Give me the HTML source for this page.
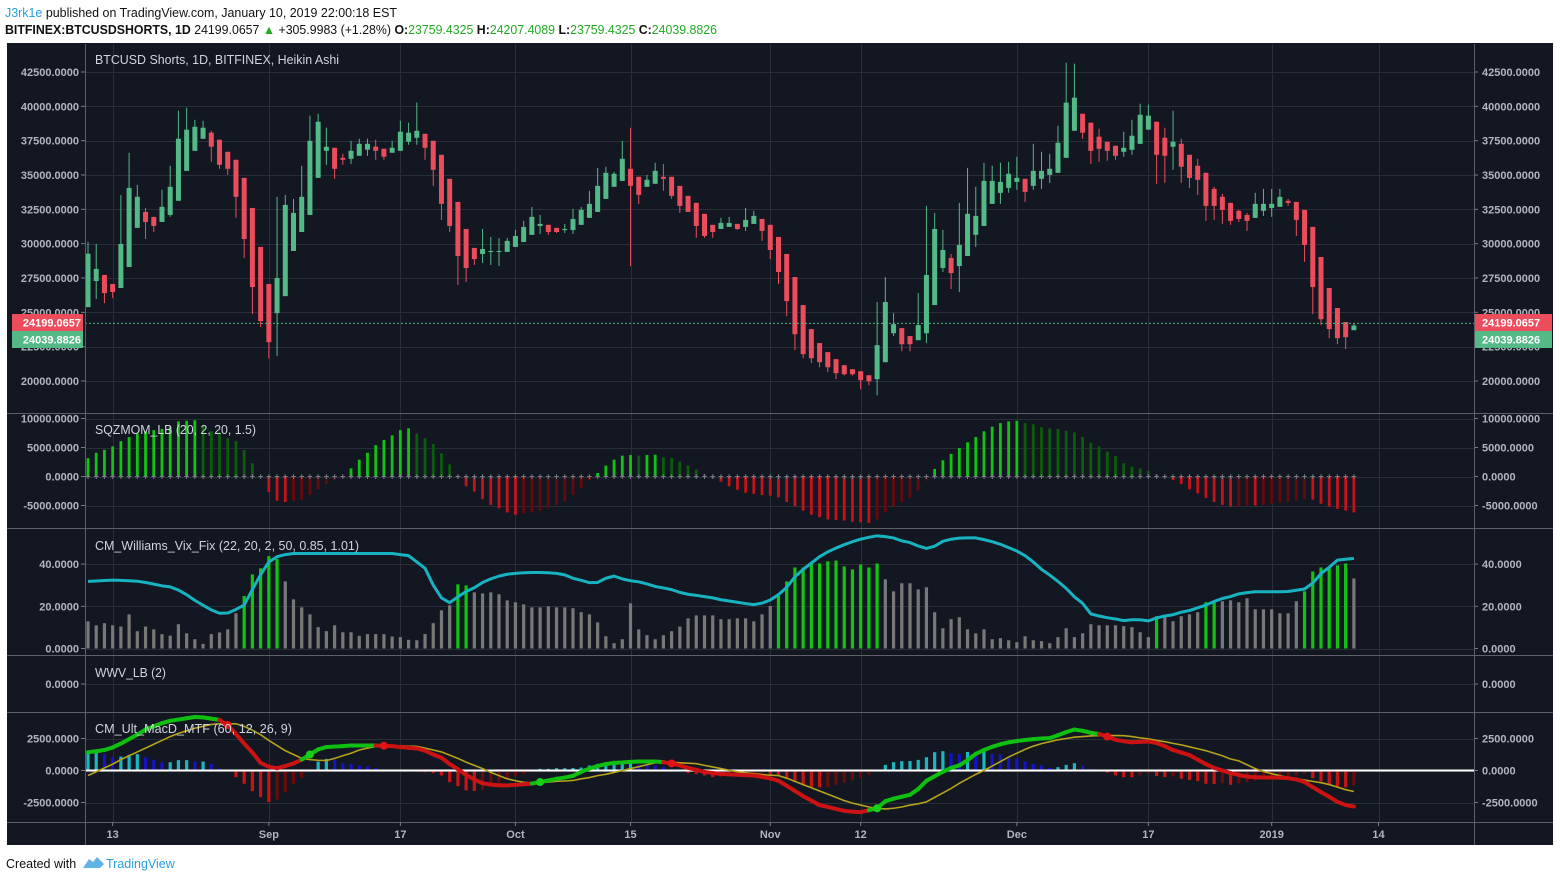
<!DOCTYPE html>
<html><head><meta charset="utf-8"><style>
html,body{margin:0;padding:0;background:#fff;}
svg{display:block;font-family:"Liberation Sans",sans-serif;}
</style></head><body>
<svg id="chart" width="1560" height="881" viewBox="0 0 1560 881" xmlns="http://www.w3.org/2000/svg">
<text x="5" y="17" font-size="12.5" fill="#111" textLength="392" lengthAdjust="spacingAndGlyphs"><tspan fill="#2a9ee0">J3rk1e</tspan> published on TradingView.com, January 10, 2019 22:00:18 EST</text>
<text x="5" y="34" font-size="12.5" fill="#111" textLength="712" lengthAdjust="spacingAndGlyphs"><tspan font-weight="bold">BITFINEX:BTCUSDSHORTS, 1D</tspan> 24199.0657 <tspan fill="#22ab22">▲</tspan> +305.9983 (+1.28%) <tspan font-weight="bold">O:</tspan><tspan fill="#22ab22">23759.4325</tspan> <tspan font-weight="bold">H:</tspan><tspan fill="#22ab22">24207.4089</tspan> <tspan font-weight="bold">L:</tspan><tspan fill="#22ab22">23759.4325</tspan> <tspan font-weight="bold">C:</tspan><tspan fill="#22ab22">24039.8826</tspan></text>
<rect x="7" y="43" width="1546" height="802" fill="#131722"/>
<g id="grid"></g>
<g id="marks"></g>
<g id="axes"></g>
<text x="6" y="868" font-size="12.5" fill="#111">Created with</text>
<g>
<path d="M83 868 L89 859 L93 862 L97 857 L104 864 L100 868 Z" fill="#5fb3e6"/>
<text x="106" y="868" font-size="12.5" fill="#2a9ee0">TradingView</text>
</g>
</svg>
<script>
// ---------- data ----------
const open=[25.38,27.28,27.72,27.06,26.77,28.3,31.15,32.31,31.95,31.58,
32.09,33.12,35.3,36.76,37.64,38.08,37.57,36.69,36.11,34.79,
32.6,29.76,27.06,24.94,26.18,29.47,30.85,32.09,34.79,36.76,
36.98,36.25,36.18,36.4,36.84,37.06,36.91,36.62,36.76,37.42,
37.71,38.0,37.49,36.47,34.72,33.04,31.07,29.69,29.25,29.4,
29.45,29.4,29.76,30.12,30.64,31.29,31.37,31.15,30.99,30.99,
31.37,31.88,32.31,33.26,34.14,34.57,35.45,34.87,34.14,34.36,
34.87,34.87,34.21,33.48,32.97,32.17,31.37,31.07,31.22,31.44,
31.22,31.44,31.8,31.37,30.49,29.25,27.57,25.53,23.78,22.76,
22.1,21.59,21.15,20.86,20.71,20.42,20.13,21.37,23.48,23.85,
23.27,22.97,23.48,25.53,28.23,28.96,28.37,29.1,30.64,31.29,
32.9,33.7,34.06,34.5,34.72,34.21,34.72,35.01,35.16,36.25,
38.22,39.46,38.81,37.79,37.42,37.13,36.69,36.84,37.27,38.3,
38.88,37.71,37.06,37.27,36.47,35.67,35.16,33.99,33.41,32.97,
32.39,32.09,31.88,32.39,32.6,32.68,33.12,33.04,32.46,31.22,
29.03,26.77,25.31,24.29,23.7];
const high=[30.13,29.98,27.72,27.06,33.55,36.62,34.28,32.6,31.95,33.92,
35.67,39.68,39.9,39.02,38.95,38.22,37.57,36.69,36.11,34.79,
32.6,29.76,27.06,33.41,33.55,33.26,35.67,39.32,39.46,38.44,
36.98,36.54,37.49,37.64,37.64,37.57,36.91,37.49,38.95,38.81,
40.27,38.0,37.49,36.47,34.72,33.04,31.07,29.69,31.07,30.49,
30.4,30.42,31.0,31.66,32.68,32.09,31.37,31.15,31.44,32.53,
32.68,33.85,35.52,35.6,35.23,37.49,38.44,34.87,35.01,35.89,
35.81,34.87,34.21,33.48,32.97,32.17,31.37,31.88,31.95,31.44,
32.6,32.39,31.8,31.37,30.49,29.25,27.57,25.53,23.78,22.76,
22.1,21.59,21.15,20.86,20.71,20.42,25.75,27.57,24.94,23.85,
23.27,26.4,32.75,32.24,31.0,29.25,32.97,35.52,34.14,35.89,
35.67,35.89,35.96,36.33,34.72,37.27,36.69,36.54,38.59,43.18,
43.11,39.46,38.81,38.37,37.42,37.13,38.15,39.02,40.19,40.12,
38.88,38.44,39.68,37.64,36.47,36.18,35.16,34.14,33.63,32.97,
32.46,32.24,33.7,33.99,33.99,33.99,33.26,33.04,32.46,31.22,
29.03,26.77,25.31,24.29,24.2];
const low=[25.38,25.97,25.67,26.04,26.77,28.3,31.15,30.34,30.85,31.58,
31.95,33.12,35.3,36.76,37.64,35.96,35.45,35.01,31.88,28.96,
24.87,23.92,21.66,21.81,26.18,29.47,30.85,32.09,34.79,35.74,
34.72,35.74,35.81,36.4,36.4,36.11,36.11,36.62,36.76,37.2,
37.2,36.11,34.21,31.73,30.85,26.99,27.21,28.45,28.59,28.45,
28.37,29.4,29.76,30.12,30.64,30.71,30.64,30.78,30.78,30.71,
31.37,31.88,32.31,33.26,34.14,34.57,28.37,32.9,34.14,34.36,
33.85,33.26,32.24,32.31,30.42,30.42,30.42,31.07,31.22,31.0,
30.93,31.44,30.2,28.88,27.06,24.72,22.25,21.66,21.3,21.0,
20.64,20.13,20.4,20.4,19.4,19.69,18.96,21.37,23.27,22.17,
22.17,22.97,22.76,25.53,27.94,26.7,26.48,29.1,29.76,31.29,
32.9,32.9,33.7,33.92,33.04,33.92,33.99,34.43,35.16,36.25,
38.22,37.64,35.81,35.96,36.04,36.11,36.33,36.47,37.27,38.3,
34.36,34.43,35.38,34.43,34.06,33.55,31.66,31.73,31.44,31.37,
31.58,30.93,31.88,32.02,31.95,32.68,32.75,30.56,28.67,24.87,
24.07,23.12,22.68,22.32,23.7];
const close=[29.27,28.16,26.4,26.48,29.98,34.06,33.41,31.58,31.29,32.68,
34.14,37.64,38.3,38.51,38.44,37.06,35.74,35.45,33.41,30.34,
26.84,24.36,22.83,27.5,32.82,32.24,33.41,37.49,38.88,37.06,
35.45,36.11,36.76,37.27,37.27,36.76,36.33,36.98,38.15,38.08,
38.22,36.98,35.38,32.9,31.29,29.1,28.23,28.88,29.61,29.47,
29.47,30.2,30.56,31.22,31.95,31.44,30.85,30.85,31.07,31.8,
32.46,32.9,34.21,35.16,35.09,36.18,34.21,33.55,34.65,35.3,
34.72,33.48,32.75,32.31,31.29,30.56,30.85,31.51,31.51,31.07,
31.73,32.02,30.93,29.54,27.94,25.82,23.41,21.95,21.66,21.37,
21.0,20.57,20.49,20.49,20.06,19.98,22.61,25.75,24.14,22.68,
22.68,24.07,27.72,31.07,29.54,27.86,29.91,32.17,32.02,34.57,
34.57,34.5,35.09,34.79,33.77,35.3,35.3,35.45,37.35,40.27,
40.63,38.08,36.76,36.91,36.76,36.4,36.98,37.86,39.39,39.32,
36.47,36.4,37.42,35.6,34.79,34.65,32.75,32.75,32.46,31.66,
31.8,31.66,32.9,32.9,32.9,33.41,32.97,31.73,29.91,26.84,
24.5,23.78,23.12,23.19,24.04];
const sqzMom=[3.16,4.1,4.6,5.2,6.1,6.8,7.4,7.8,8.0,8.2,
8.5,9.5,9.6,9.7,8.7,7.8,7.6,6.6,6.1,4.6,
2.3,0,-2.7,-4.2,-4.4,-4.2,-4.0,-3.2,-2.2,-1.3,
-0.6,-0.2,1.4,2.9,4.1,5.4,6.3,7.1,8.0,8.3,
7.4,6.6,5.6,4.0,2.1,0.1,-1.7,-2.6,-3.9,-4.9,
-5.5,-6.2,-6.6,-6.3,-6.2,-5.9,-5.5,-4.9,-4.3,-3.2,
-2.0,-0.6,0.6,1.9,2.9,3.6,3.7,3.6,3.7,3.75,
3.3,3.2,2.6,1.9,1.2,0.4,-0.3,-0.9,-1.7,-2.3,
-2.8,-3.0,-3.2,-3.3,-3.6,-4.4,-5.1,-5.9,-6.6,-7.0,
-7.4,-7.5,-7.6,-7.8,-7.9,-8.0,-7.4,-6.2,-5.2,-4.4,
-3.7,-2.5,-0.7,1.3,2.8,3.9,4.9,5.9,6.8,7.8,
8.6,9.2,9.5,9.6,9.2,9.0,8.5,8.3,8.2,7.9,
7.6,6.8,5.8,5.2,4.3,3.5,2.3,1.7,1.4,1.0,
0.4,0,-0.6,-1.3,-2.2,-2.9,-3.7,-4.4,-4.9,-5.2,
-5.1,-5.0,-5.0,-4.9,-4.7,-4.5,-4.3,-4.1,-3.9,-4.0,
-4.7,-5.2,-5.6,-5.9,-6.2];
const vixBars=[12.9,11,12,11,10.4,16.2,8.2,10.4,9.1,6.8,
6.1,11.5,7.2,4.4,2.2,6.8,7.6,9.1,16.7,24.9,
35.1,38,43.8,42.4,31.8,23.3,19.5,16.2,10.1,8.2,
11,7.7,7.7,6,6.8,6.8,6.8,5.7,5.4,4.1,
3.9,6.9,12,18.1,20.5,30.4,29.9,26.6,26.1,26.6,
25.7,22.8,21.9,20.9,19.5,19.5,20,19.5,19.5,19.1,
17.2,16.2,12.4,5.8,2.5,4.4,21.4,9.1,6.3,4.4,
6.3,8.2,10.4,14.3,15.7,15.7,15.7,13.9,13.9,14.3,
14.3,12.9,16.2,20.2,24.9,31.8,38.4,38.4,40.3,40.3,
41.3,41.7,38.9,37.5,39.8,38.4,40.3,32.8,27.1,30.9,
30.9,28,29,17.2,9.6,13.9,14.8,9.1,7.2,9.1,
4.4,4.9,3.9,3,5.8,3.9,3.5,2.5,5.4,9.6,
5.4,7.2,11.5,11,11,11,10.6,10.1,7.7,5.4,
15.3,14.8,12.9,15.3,16.2,17.2,21.9,21.9,22.4,22.8,
21.9,23.8,18.6,18.6,18.6,16.7,16.7,22.4,27.1,36.5,
38.4,38,39.4,40.3,33.2];
const vixAlert=[0,0,0,0,0,0,0,0,0,0, 0,0,0,0,0,0,0,0,0,1,
1,1,1,1,0,0,0,0,0,0, 0,0,0,0,0,0,0,0,0,0,
0,0,0,0,0,1,1,0,0,0, 0,0,0,0,0,0,0,0,0,0,
0,0,0,0,0,0,0,0,0,0, 0,0,0,0,0,0,0,0,0,0,
0,0,0,0,1,1,1,1,1,1, 1,1,1,1,1,1,1,0,0,0,
0,0,0,0,0,0,0,0,0,0, 0,0,0,0,0,0,0,0,0,0,
0,0,0,0,0,0,0,0,0,0, 1,0,0,0,0,0,1,1,0,0,
0,0,0,0,0,0,0,0,1,1, 1,1,1,1,0];
const vixLine=[31.8,32,32.2,32.4,32.3,32.1,31.9,31.3,30.5,29.7,
29.2,27.7,25.5,22.8,20.5,18.3,16.7,16.8,18.5,20.6,
28,35,41,43.5,44.5,45,45,45,45,45,
45,45,45,45,45,45,45,45,44.5,44,
41,38,30,24,21.7,24.5,27,28.8,31.3,33,
34.3,35.2,35.6,35.9,36,36,35.9,35.6,34.9,33.3,
32.3,31.2,31.3,33.3,34.3,33,32.1,31.6,30.6,29.4,
28.7,27.9,26.6,25.7,25.2,24.6,24,23.1,22.5,21.9,
21.3,20.8,21.5,23,25.5,29,34,37.5,40.5,43.5,
45.8,47.6,49.2,50.6,51.8,52.7,53.4,53,52.4,51,
50.2,48.6,47.4,48.5,50.8,51.8,52.3,52.4,52.4,51.6,
50.6,49.4,47.8,46.2,44,41,37.5,34.8,31.8,28.5,
24.5,21.4,16.4,15.4,14.6,14,13.2,13.6,13.6,13.1,
14.5,15.4,16,17.2,18,19.3,20.6,22.3,23.7,24.6,
25.9,26.5,26.9,26.9,26.9,26.9,27,27.6,28.2,31,
35.5,38.5,41.9,42.3,42.7];
const macdHist=[1.43,1.43,1.3,1.04,1.09,1.22,1.28,1.04,0.83,0.65,
0.65,0.81,0.81,0.7,0.7,0.52,0.13,0,-0.52,-1.04,
-1.61,-2.08,-2.47,-2.27,-1.69,-1.04,-0.57,0.08,0.7,0.91,
0.83,0.57,0.52,0.39,0.31,0.18,0,0,0,0,
0,-0.13,-0.2,-0.39,-0.91,-1.22,-1.56,-1.6,-1.48,-1.17,
-0.91,-0.65,-0.44,-0.26,-0.08,0.13,0.13,0.18,0.18,0.2,
0.23,0.39,0.52,0.6,0.65,0.7,0.72,0.44,0.42,0.40,
0.26,0,0,-0.21,-0.29,-0.39,-0.52,-0.5,-0.45,-0.4,
-0.39,-0.38,-0.26,-0.39,-0.4,-0.65,-0.91,-1.17,-1.3,-1.32,
-1.3,-1.12,-0.96,-0.78,-0.57,-0.34,0,0.44,0.65,0.73,
0.74,0.83,1.04,1.43,1.51,1.35,1.3,1.45,1.4,1.5,
1.3,1.28,1.12,0.96,0.7,0.52,0.39,0.21,0.26,0.44,
0.57,0.39,0.13,0,-0.18,-0.39,-0.52,-0.53,-0.39,-0.26,
-0.44,-0.52,-0.47,-0.65,-0.73,-0.83,-1.04,-1.05,-1.0,-1.12,
-1.0,-0.91,-0.78,-0.65,-0.57,-0.5,-0.45,-0.39,-0.26,-0.6,
-0.86,-1.12,-1.3,-1.32,-1.17];
const macdLine=[1.43,1.5,1.6,1.8,2.1,2.45,2.8,3.2,3.45,3.7,
3.88,3.98,4.08,4.18,4.15,4.05,3.95,3.55,2.85,2.1,
1.4,0.6,0.3,0.18,0.35,0.55,0.85,1.25,1.65,1.83,
1.87,1.9,1.95,1.95,1.95,1.95,1.93,1.9,1.84,1.78,
1.72,1.55,1.25,1.0,0.5,0.1,-0.35,-0.7,-1.0,-1.1,
-1.15,-1.17,-1.12,-1.07,-1.02,-0.9,-0.78,-0.65,-0.55,-0.42,
-0.1,0.15,0.35,0.5,0.6,0.63,0.67,0.7,0.7,0.7,
0.65,0.55,0.4,0.2,0.05,-0.12,-0.2,-0.26,-0.3,-0.33,
-0.36,-0.39,-0.5,-0.62,-0.8,-1.2,-1.6,-2.0,-2.35,-2.7,
-2.85,-3.0,-3.15,-3.22,-3.25,-3.1,-2.95,-2.4,-2.2,-2.05,
-1.9,-1.45,-0.8,-0.45,-0.1,0.2,0.4,0.8,1.3,1.6,
1.85,2.05,2.2,2.3,2.38,2.45,2.5,2.53,2.75,3.0,
3.2,3.1,2.94,2.85,2.65,2.4,2.28,2.21,2.25,2.27,
2.15,1.9,1.6,1.4,1.2,0.85,0.5,0.2,0.0,-0.2,
-0.35,-0.48,-0.53,-0.55,-0.55,-0.56,-0.6,-0.7,-0.9,-1.3,
-1.69,-2.05,-2.45,-2.7,-2.81];
const signalLine=[-0.39,-0.1,0.2,0.5,0.85,1.15,1.45,1.75,2.05,2.35,
2.65,2.9,3.1,3.3,3.45,3.6,3.65,3.65,3.65,3.45,
3.15,2.8,2.35,1.95,1.55,1.25,0.95,0.85,0.8,0.78,
0.95,1.15,1.35,1.6,1.75,1.87,1.95,1.93,1.92,1.9,
1.88,1.75,1.6,1.45,1.2,0.95,0.65,0.4,0.15,-0.15,
-0.4,-0.65,-0.8,-0.92,-0.96,-0.95,-0.9,-0.85,-0.82,-0.78,
-0.65,-0.55,-0.4,-0.3,-0.15,0.0,0.15,0.3,0.45,0.6,
0.65,0.63,0.6,0.57,0.53,0.4,0.28,0.15,0.02,-0.1,
-0.18,-0.25,-0.32,-0.37,-0.4,-0.6,-0.85,-1.1,-1.35,-1.6,
-1.85,-2.1,-2.35,-2.55,-2.7,-2.85,-2.95,-3.0,-2.95,-2.85,
-2.7,-2.6,-2.45,-2.1,-1.75,-1.4,-1.0,-0.65,-0.3,0.0,
0.35,0.7,1.05,1.35,1.65,1.9,2.1,2.25,2.4,2.5,
2.6,2.65,2.7,2.73,2.73,2.73,2.72,2.65,2.55,2.47,
2.35,2.25,2.12,2.0,1.85,1.7,1.55,1.35,1.15,0.9,
0.75,0.45,0.15,-0.08,-0.25,-0.4,-0.55,-0.65,-0.75,-0.85,
-0.95,-1.1,-1.3,-1.5,-1.64];
const mainTicks=[20,22.5,25,27.5,30,32.5,35,37.5,40,42.5];
const sqzTicks=[10,5,0,-5];
const vixTicks=[40,20,0];
const macdTicks=[2.5,0,-2.5];
const timeLabels=["13","Sep","17","Oct","15","Nov","12","Dec","17","2019","14"];
const timeIdx=[3,22,38,52,66,83,94,113,129,144,157];
const lastClose=24.1990657, lastHA=24.0398826;

// ---------- axes ----------
const X0=88, DX=8.22;
const xAt=i=>X0+i*DX;
const yMain=p=>381-(p-20)*(309/22.5);
const ySqz=v=>476.5-v*5.8;
const yVix=v=>648.5-v*2.11;
const yMacd=v=>770.5-v*12.8;
const PL=85, PR=1474;

const NS="http://www.w3.org/2000/svg";
function mk(tag,attrs,parent){const e=document.createElementNS(NS,tag);for(const k in attrs)e.setAttribute(k,attrs[k]);parent.appendChild(e);return e;}
const grid=document.getElementById('grid'), marks=document.getElementById('marks'), axes=document.getElementById('axes');
const GC="#2a2e39", LC="#b2b5be";

// grid lines
function hgrid(y){const l=mk('line',{x1:PL,x2:PR,y1:y,y2:y,stroke:GC,'stroke-width':1},grid);

}
timeIdx.forEach(ix=>{const x=Math.round(xAt(ix))+0.5;
const l=mk('line',{x1:x,x2:x,y1:44,y2:822,stroke:GC,'stroke-width':1},grid);

});
mainTicks.forEach(v=>hgrid(Math.round(yMain(v))+0.5));
sqzTicks.forEach(v=>hgrid(Math.round(ySqz(v))+0.5));
vixTicks.forEach(v=>hgrid(Math.round(yVix(v))+0.5));
hgrid(684.5);
macdTicks.forEach(v=>hgrid(Math.round(yMacd(v))+0.5));

function fmt(v,mul){return (v*mul).toFixed(4);}
function tickLabel(y,txt,name){
  const a=mk('text',{x:79,y:y+4,'font-size':11,'font-weight':'bold',fill:LC,'text-anchor':'end'},axes);a.textContent=txt;
  
  
  const b=mk('text',{x:1482,y:y+4,'font-size':11,'font-weight':'bold',fill:LC},axes);b.textContent=txt;
  
  
  mk('line',{x1:81,x2:85,y1:y,y2:y,stroke:'#787b86'},axes);
  mk('line',{x1:1474,x2:1478,y1:y,y2:y,stroke:'#787b86'},axes);
}
mainTicks.forEach(v=>tickLabel(yMain(v),fmt(v,1000),'price-tick'));
sqzTicks.forEach(v=>tickLabel(ySqz(v),fmt(v,1000),'sqz-tick'));
vixTicks.forEach(v=>tickLabel(yVix(v),fmt(v,1),'vix-tick'));
tickLabel(684,"0.0000",'wwv-tick');
macdTicks.forEach(v=>tickLabel(yMacd(v),fmt(v,1000),'macd-tick'));

// separators / borders
[[413],[528],[655],[712],[822]].forEach(([y])=>{const l=mk('line',{x1:7,x2:1553,y1:y+0.5,y2:y+0.5,stroke:'#5d606b','stroke-width':1},axes);

});
[[PL],[PR]].forEach(([x])=>{const l=mk('line',{x1:x+0.5,x2:x+0.5,y1:44,y2:845,stroke:'#5d606b','stroke-width':1},axes);

});

timeLabels.forEach((t,k)=>{const x=xAt(timeIdx[k]);
mk('line',{x1:x,x2:x,y1:822,y2:826,stroke:'#787b86'},axes);
const tx=mk('text',{x:x,y:838,'font-size':11,'font-weight':'bold',fill:LC,'text-anchor':'middle'},axes);tx.textContent=t;

});

// pane titles
[["BTCUSD Shorts, 1D, BITFINEX, Heikin Ashi",64,244,"main-pane-title"],["SQZMOM_LB (20, 2, 20, 1.5)",434,161,"sqzmom-title"],["CM_Williams_Vix_Fix (22, 20, 2, 50, 0.85, 1.01)",550,264,"vix-fix-title"],["WWV_LB (2)",677,71,"wwv-title"],["CM_Ult_MacD_MTF (60, 12, 26, 9)",733,197,"macd-title"]].forEach(([t,y,w,n])=>{
const tx=mk('text',{x:95,y:y,'font-size':12.5,fill:'#d1d4dc',textLength:w,lengthAdjust:'spacingAndGlyphs'},axes);tx.textContent=t;

});

// ---------- main candles ----------
const gC=mk('g',{},marks);


for(let i=0;i<close.length;i++){
  const up=close[i]>=open[i]; const col=up?"#53b987":"#eb4d5c"; const x=xAt(i);
  const g=mk('g',{},gC);
  
  
  mk('line',{x1:x,x2:x,y1:yMain(high[i]),y2:yMain(low[i]),stroke:col,'stroke-width':1},g);
  const yt=yMain(Math.max(open[i],close[i])), yb=yMain(Math.min(open[i],close[i]));
  mk('rect',{x:x-2.5,y:yt,width:5,height:Math.max(1,yb-yt),fill:col},g);
}
// last price line and badges
const yl=yMain(lastClose);
const pl=mk('line',{x1:PL,x2:PR,y1:yl,y2:yl,stroke:'#53b987','stroke-width':1,'stroke-dasharray':'2,2'},marks);


function badge(v,col,yc,name){
  [[12,79],[1475,1548]].forEach(([x0,x1],s)=>{
    const g=mk('g',{},axes);
    
    
    mk('rect',{x:x0,y:yc-8.5,width:x1-x0+4,height:17,fill:col},g);
    const t=mk('text',{x:s?1482:81,y:yc+4,'font-size':11,'font-weight':'bold',fill:'#fff','text-anchor':s?'start':'end'},g);
    t.textContent=(v*1000).toFixed(4);
  });
}
badge(lastClose,'#eb4d5c',322.5,'last-price-badge');
badge(lastHA,'#53b987',339.5,'ha-close-badge');

// ---------- SQZMOM ----------
const gS=mk('g',{},marks);


for(let i=0;i<sqzMom.length;i++){
  const v=sqzMom[i], p=i?sqzMom[i-1]:v; let col;
  if(v>=0) col=(v>=p)?"#13c313":"#0b5c0b"; else col=(v<=p)?"#c4121a":"#66090d";
  const y0=ySqz(0), y1=ySqz(v);
  const r=mk('rect',{x:xAt(i)-1.4,y:Math.min(y0,y1),width:2.8,height:Math.max(0.5,Math.abs(y1-y0)),fill:col},gS);
  
  
  const cr=mk('text',{x:xAt(i),y:ySqz(0)+3,'font-size':9,'font-weight':'bold',fill:'#7a7d86','text-anchor':'middle'},gS);cr.textContent='+';
}

// ---------- Vix Fix ----------
const gV=mk('g',{},marks);


for(let i=0;i<vixBars.length;i++){
  const y1=yVix(vixBars[i]), y0=yVix(0);
  const r=mk('rect',{x:xAt(i)-1.6,y:y1,width:3.2,height:y0-y1,fill:vixAlert[i]?"#13c313":"#787878"},gV);
  
  
}
const vl=mk('polyline',{points:vixLine.map((v,i)=>xAt(i)+','+yVix(v)).join(' '),fill:'none',stroke:'#18b3c1','stroke-width':3,'stroke-linejoin':'round'},marks);



// ---------- MACD ----------
const gM=mk('g',{},marks);


for(let i=0;i<macdHist.length;i++){
  const v=macdHist[i], p=i?macdHist[i-1]:v; let col;
  if(v>=0) col=(v>=p)?"#1cb5c0":"#1414c4"; else col=(v<=p)?"#c81414":"#690b0b";
  const y0=yMacd(0), y1=yMacd(v);
  const r=mk('rect',{x:xAt(i)-1.6,y:Math.min(y0,y1),width:3.2,height:Math.max(0.3,Math.abs(y1-y0)),fill:col},gM);
  
  
}
const z1=mk('line',{x1:PL,x2:PR,y1:yMacd(0),y2:yMacd(0),stroke:'#ffffff','stroke-width':2},marks);


const sg=mk('polyline',{points:signalLine.map((v,i)=>xAt(i)+','+yMacd(v)).join(' '),fill:'none',stroke:'#b5a31c','stroke-width':1.6},marks);


const gL=mk('g',{},marks);


for(let i=1;i<macdLine.length;i++){
  const col=macdLine[i]>=signalLine[i]?"#10c010":"#cc1313";
  mk('line',{x1:xAt(i-1),y1:yMacd(macdLine[i-1]),x2:xAt(i),y2:yMacd(macdLine[i]),stroke:col,'stroke-width':4,'stroke-linecap':'round'},gL);
}
for(let i=1;i<macdLine.length;i++){
  const a=macdLine[i-1]-signalLine[i-1], b=macdLine[i]-signalLine[i];
  if((a<0&&b>=0)||(a>=0&&b<0)){
    const d=mk('circle',{cx:xAt(i),cy:yMacd(macdLine[i]),r:4,fill:b>=0?"#19d019":"#e01414"},marks);
    
    
  }
}
</script>
</body></html>
